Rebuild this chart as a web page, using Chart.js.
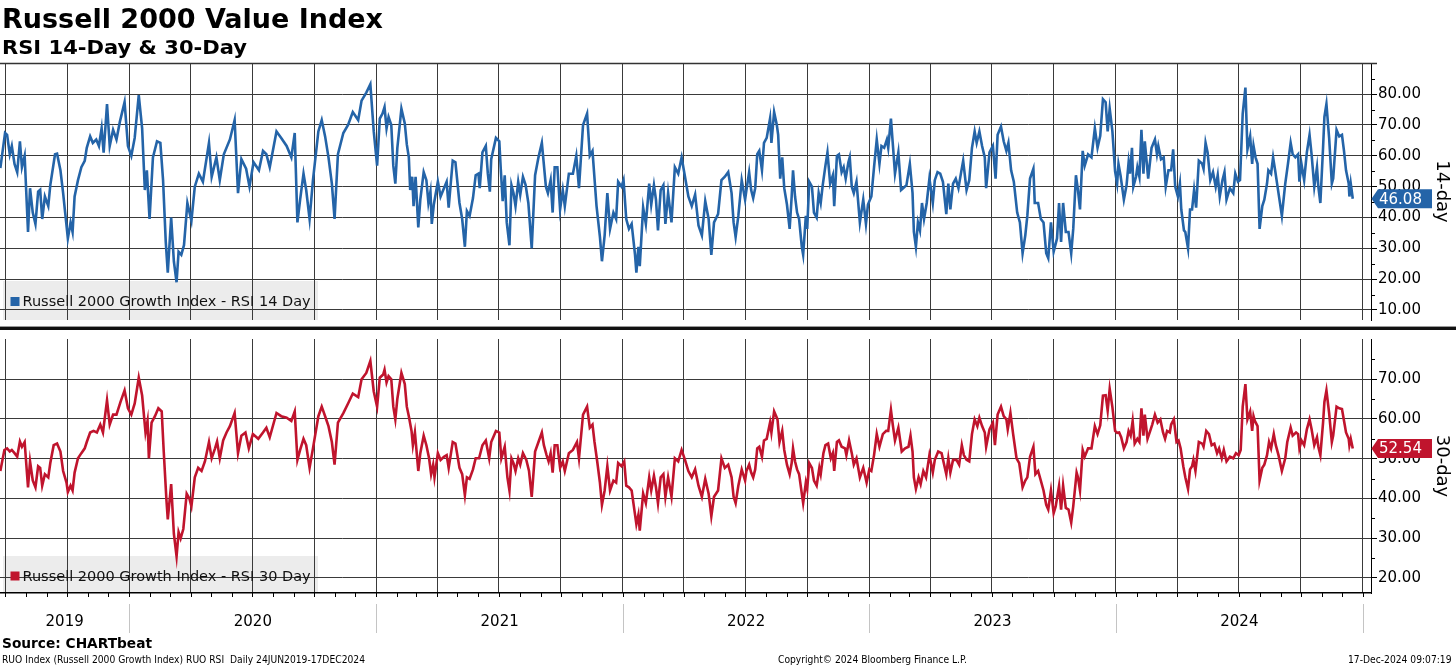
<!DOCTYPE html>
<html><head><meta charset="utf-8"><title>Russell 2000 Value Index - RSI</title>
<script src="https://cdn.jsdelivr.net/npm/chart.js@4.4.1/dist/chart.umd.min.js"></script>
<style>
html,body{margin:0;padding:0;background:#fff;}
body{width:1456px;height:666px;position:relative;overflow:hidden;}
.tx{position:absolute;white-space:nowrap;color:#000;font-family:'DejaVu Sans',sans-serif;transform-origin:0 50%;}
canvas{position:absolute;left:0;}
#sep1{position:absolute;left:0;top:325.5px;width:1456px;height:1px;background:#9a9a9a;}
#sep2{position:absolute;left:0;top:326.5px;width:1456px;height:3px;background:#111;}
</style></head>
<body>
<canvas id="c1" width="1456" height="330" style="top:0"></canvas>
<canvas id="c2" width="1456" height="337" style="top:329px"></canvas>
<div id="sep1"></div><div id="sep2"></div>
<div class="tx" id="title" style="top:4px;font-size:27px;line-height:30px;font-weight:bold">Russell 2000 Value Index</div>
<div class="tx" id="subtitle" style="top:34.5px;font-size:20px;line-height:24px;font-weight:bold">RSI 14-Day &amp; 30-Day</div>
<div class="tx" id="source" style="top:635px;font-size:14px;line-height:16px;font-weight:bold">Source: CHARTbeat</div>
<div class="tx" id="foot1" style="top:654px;font-size:10px;line-height:12px;font-family:'DejaVu Sans Condensed','DejaVu Sans',sans-serif">RUO Index (Russell 2000 Growth Index) RUO RSI&nbsp; Daily 24JUN2019-17DEC2024</div>
<div class="tx" id="foot2" style="top:654px;font-size:10px;line-height:12px;font-family:'DejaVu Sans Condensed','DejaVu Sans',sans-serif">Copyright© 2024 Bloomberg Finance L.P.</div>
<div class="tx" id="foot3" style="top:654px;font-size:10px;line-height:12px;font-family:'DejaVu Sans Condensed','DejaVu Sans',sans-serif">17-Dec-2024 09:07:19</div>
<script>
// ---------------- DATA ----------------
const dates14 = ['2019-06-24','2019-07-01','2019-07-04','2019-07-08','2019-07-11','2019-07-15','2019-07-19','2019-07-23','2019-07-26','2019-07-30','2019-08-04','2019-08-07','2019-08-11','2019-08-15','2019-08-19','2019-08-22','2019-08-25','2019-08-29','2019-09-03','2019-09-06','2019-09-13','2019-09-16','2019-09-21','2019-09-25','2019-09-28','2019-10-02','2019-10-06','2019-10-09','2019-10-12','2019-10-17','2019-10-22','2019-10-27','2019-10-30','2019-11-04','2019-11-08','2019-11-13','2019-11-17','2019-11-21','2019-11-24','2019-11-29','2019-12-03','2019-12-08','2019-12-13','2019-12-18','2019-12-25','2019-12-30',
'2020-01-04','2020-01-09','2020-01-15','2020-01-20','2020-01-24','2020-01-27','2020-01-31','2020-02-05','2020-02-11','2020-02-16','2020-02-20','2020-02-24','2020-02-27','2020-03-03','2020-03-07','2020-03-11','2020-03-14','2020-03-18','2020-03-22','2020-03-27','2020-04-02','2020-04-07','2020-04-13','2020-04-19','2020-04-28','2020-05-02','2020-05-09','2020-05-14','2020-05-20','2020-05-29','2020-06-05','2020-06-10','2020-06-15','2020-06-22','2020-06-27','2020-07-03','2020-07-11','2020-07-17','2020-07-22','2020-07-27','2020-08-06','2020-08-13','2020-08-21','2020-08-28','2020-09-02','2020-09-06','2020-09-10','2020-09-15','2020-09-19','2020-09-24','2020-09-29','2020-10-07','2020-10-12','2020-10-17','2020-10-22','2020-10-27','2020-10-31','2020-11-05','2020-11-13','2020-11-20','2020-11-27','2020-12-05','2020-12-10','2020-12-17','2020-12-23','2020-12-28',
'2021-01-02','2021-01-06','2021-01-10','2021-01-13','2021-01-16','2021-01-19','2021-01-23','2021-01-26','2021-01-29','2021-02-01','2021-02-07','2021-02-12','2021-02-15','2021-02-18','2021-02-20','2021-02-23','2021-02-25','2021-02-28','2021-03-04','2021-03-07','2021-03-12','2021-03-16','2021-03-19','2021-03-22','2021-03-24','2021-03-27','2021-04-02','2021-04-06','2021-04-11','2021-04-15','2021-04-18','2021-04-24','2021-04-28','2021-05-04','2021-05-08','2021-05-12','2021-05-15','2021-05-19','2021-05-24','2021-05-28','2021-06-01','2021-06-03','2021-06-07','2021-06-12','2021-06-15','2021-06-18','2021-06-20','2021-06-27','2021-07-02','2021-07-04','2021-07-07','2021-07-10','2021-07-13','2021-07-17','2021-07-20','2021-07-23','2021-07-26','2021-07-30','2021-08-02','2021-08-06','2021-08-10','2021-08-14','2021-08-19','2021-08-24','2021-08-29','2021-09-03','2021-09-05','2021-09-09','2021-09-12','2021-09-16','2021-09-19','2021-09-22','2021-09-26','2021-09-30','2021-10-04','2021-10-07','2021-10-13','2021-10-19','2021-10-24','2021-10-28','2021-11-03','2021-11-09','2021-11-13','2021-11-17','2021-11-23','2021-11-28','2021-12-01','2021-12-05','2021-12-09','2021-12-13','2021-12-18','2021-12-22','2021-12-25','2021-12-30',
'2022-01-02','2022-01-06','2022-01-10','2022-01-14','2022-01-19','2022-01-21','2022-01-24','2022-01-26','2022-01-31','2022-02-04','2022-02-09','2022-02-12','2022-02-16','2022-02-19','2022-02-22','2022-02-26','2022-03-02','2022-03-05','2022-03-09','2022-03-14','2022-03-19','2022-03-24','2022-03-29','2022-04-03','2022-04-08','2022-04-13','2022-04-18','2022-04-23','2022-04-28','2022-05-03','2022-05-08','2022-05-12','2022-05-16','2022-05-22','2022-05-27','2022-06-01','2022-06-06','2022-06-11','2022-06-14','2022-06-17','2022-06-21','2022-06-26','2022-07-01','2022-07-03','2022-07-07','2022-07-10','2022-07-13','2022-07-16','2022-07-19','2022-07-22','2022-07-26','2022-07-29','2022-08-02','2022-08-07','2022-08-09','2022-08-13','2022-08-17','2022-08-19','2022-08-22','2022-08-25','2022-08-28','2022-09-01','2022-09-05','2022-09-08','2022-09-10','2022-09-13','2022-09-16','2022-09-19','2022-09-23','2022-09-25','2022-09-29','2022-10-01','2022-10-04','2022-10-08','2022-10-11','2022-10-15','2022-10-18','2022-10-21','2022-10-24','2022-10-28','2022-10-31','2022-11-04','2022-11-08','2022-11-10','2022-11-14','2022-11-17','2022-11-21','2022-11-24','2022-11-27','2022-12-01','2022-12-03','2022-12-06','2022-12-09','2022-12-13','2022-12-18','2022-12-23','2022-12-27','2022-12-30',
'2023-01-04','2023-01-08','2023-01-12','2023-01-16','2023-01-19','2023-01-23','2023-01-27','2023-01-29','2023-02-02','2023-02-05','2023-02-08','2023-02-13','2023-02-17','2023-02-20','2023-02-25','2023-03-02','2023-03-06','2023-03-08','2023-03-11','2023-03-14','2023-03-17','2023-03-20','2023-03-23','2023-03-27','2023-03-31','2023-04-05','2023-04-08','2023-04-12','2023-04-16','2023-04-20','2023-04-25','2023-04-28','2023-05-01','2023-05-05','2023-05-09','2023-05-13','2023-05-17','2023-05-20','2023-05-25','2023-05-29','2023-06-02','2023-06-06','2023-06-09','2023-06-13','2023-06-17','2023-06-21','2023-06-23','2023-06-28','2023-07-03','2023-07-07','2023-07-10','2023-07-15','2023-07-19','2023-07-23','2023-07-26','2023-07-30','2023-08-03','2023-08-08','2023-08-12','2023-08-16','2023-08-20','2023-08-23','2023-08-27','2023-09-01','2023-09-03','2023-09-08','2023-09-12','2023-09-16','2023-09-20','2023-09-23','2023-09-27','2023-10-01','2023-10-06','2023-10-09','2023-10-12','2023-10-15','2023-10-19','2023-10-23','2023-10-27','2023-10-30','2023-11-03','2023-11-06','2023-11-09','2023-11-13','2023-11-16','2023-11-21','2023-11-26','2023-12-01','2023-12-05','2023-12-09','2023-12-13','2023-12-17','2023-12-20','2023-12-23','2023-12-27','2023-12-31',
'2024-01-03','2024-01-05','2024-01-08','2024-01-13','2024-01-17','2024-01-20','2024-01-22','2024-01-25','2024-01-27','2024-01-31','2024-02-02','2024-02-05','2024-02-08','2024-02-11','2024-02-13','2024-02-18','2024-02-23','2024-02-28','2024-03-02','2024-03-04','2024-03-08','2024-03-12','2024-03-15','2024-03-19','2024-03-23','2024-03-26','2024-03-29','2024-04-02','2024-04-05','2024-04-07','2024-04-11','2024-04-13','2024-04-17','2024-04-20','2024-04-23','2024-04-26','2024-04-29','2024-05-03','2024-05-08','2024-05-10','2024-05-13','2024-05-16','2024-05-20','2024-05-24','2024-05-28','2024-05-31','2024-06-03','2024-06-07','2024-06-10','2024-06-13','2024-06-18','2024-06-23','2024-06-26','2024-06-30','2024-07-03','2024-07-07','2024-07-11','2024-07-14','2024-07-18','2024-07-21','2024-07-23','2024-07-26','2024-07-29','2024-08-01','2024-08-05','2024-08-08','2024-08-12','2024-08-14','2024-08-18','2024-08-21','2024-08-24','2024-08-29','2024-09-03','2024-09-08','2024-09-12','2024-09-16','2024-09-19','2024-09-23','2024-09-27','2024-09-29','2024-10-02','2024-10-06','2024-10-10','2024-10-14','2024-10-17','2024-10-21','2024-10-25','2024-10-27','2024-10-30','2024-11-03','2024-11-05','2024-11-08','2024-11-12','2024-11-16','2024-11-18','2024-11-23','2024-11-27','2024-12-01','2024-12-04','2024-12-07','2024-12-11','2024-12-12','2024-12-14','2024-12-17'];

const rsi14 = [56,67.4,66.8,60.5,63.2,57.4,54.7,64.7,56.3,60,35.3,49.5,41.6,37.9,48.4,49,39.5,46.8,43.7,50.5,60.5,60.7,55.3,47.9,41.6,33.2,38.4,35.3,46.8,52.1,56.3,58.4,62.6,66.3,64.2,65.3,63.2,68.9,61,76.8,63.2,68.4,65.3,71,77.4,63.2,
60,65.8,79.7,68.9,48.9,55.3,39.5,59.5,64.7,64.2,52.1,32.1,22.1,40,25.8,19,28.9,27.9,31,44.7,38.9,50,54.2,51.6,64.2,53.2,59.5,52.1,60.5,65.3,71.6,47.9,58.9,55.8,50,57.9,55.3,61.6,60.5,56.3,67.9,65.8,63.2,59.5,67.4,38.4,45.8,54.2,48.9,39.5,52.1,67.9,71.6,66.3,59.5,51,39.5,60.5,67.4,70,74.2,71.6,77.9,80.5,83.2,68,
56.8,72.1,73.7,75.8,68.9,72.6,70,56.8,51,62.6,75.3,70.5,63.7,59.5,48.9,53.2,43.7,53.2,36.8,45.8,54.7,52.1,44.7,48.4,37.9,44.2,51.6,46.8,49.5,51.6,43.2,58.4,57.9,44.7,39.5,30.5,42.1,40.5,46.3,53.7,54.2,49.5,61.1,63.2,54.2,48.4,58.9,65.8,64.7,56.3,45.3,53.7,38.4,31,50.5,47.9,43.7,51.6,47.4,53.2,50.5,44.7,30,53.7,59.5,64.2,59.5,50,47.9,52.1,41.6,56.3,56.3,42.6,48.9,43.7,54.2,54.2,60,49.5,70,73.7,60,61.6,43.7,33.7,25.8,34.2,47.9,36.3,41.6,39.5,51.6,50,
52.1,39.5,36.3,37.9,27.9,22.1,30.5,24.2,43.2,37.9,51,44.2,50.5,45.8,35.8,48.9,50.5,37.9,47.9,38.4,56.3,54.2,59.5,53.2,46.8,43.7,47.4,37.4,34.2,45.3,39.5,27.9,38.4,41.1,52.1,53.2,54.7,47.9,38.4,33.7,40.5,52.1,45.8,48.9,54.7,48.9,46.3,49.5,60.5,61.6,55.3,64.2,65.8,72.1,64.2,74.2,70,66.8,52.6,59.5,49.5,44.2,36.3,46.8,55.3,46.8,41.6,39.5,30.5,27.9,40.5,36.3,51.6,50,41.6,40,47.9,44.7,50.5,56.8,61.1,51,53.7,43.7,60,60.5,54.7,56.3,52.6,57.9,59.5,50,47.9,51.6,38.4,45.8,37.9,44.2,
46.8,56.3,65.3,57.4,63.2,62.6,65.3,62.6,72.1,63.2,54.2,61.1,48.9,49.5,50.5,57.4,47.9,35.3,30.5,38.4,35.8,44.7,39.5,44.7,52.6,44.7,52.1,54.7,54.2,51.6,41.1,51,42.6,51,52.6,49.5,54.7,58.4,48.9,52.1,62.6,67.9,64.2,67.9,63.2,59.5,49.5,61.1,63.2,52.6,66.8,69.5,64.7,61.6,64.2,55.3,51.6,41.6,38.4,28.4,34.2,40.5,52.6,55.8,44.7,44.7,39.5,38.4,28.4,26.8,38.4,28.9,33.2,44.7,32.1,44.7,35.3,35.3,28.4,36.3,53.7,48.9,42.6,61.6,56.8,60.5,59.5,68.9,62.6,66.5,78.4,77.4,67.9,75.3,67.9,55,
51,57.4,53.7,45.8,50.5,57.9,54.2,62.6,50,53.2,56.3,53.2,68.4,54.2,64.7,52.6,62.6,65.3,60.5,63.2,58.9,59.5,50,55.3,55.3,62.1,50,46.8,51,42.6,35.8,35.3,30,42.6,42.6,48.9,43.2,58.4,57.4,55.8,64.2,61.1,52.1,54.7,50,53.7,46.8,52.1,54.7,45.8,49.5,47.9,54.2,51.6,52.1,73.7,82.1,62.1,66.3,57.4,63.2,59.5,57.4,36.3,43.7,45.8,51,55.3,54.2,59.5,55.3,47.9,40.5,51,57.4,64.2,60.5,59.5,60.5,51.6,57.4,52.1,61.1,66.8,60.5,50,56.3,50,44.7,62.6,72.6,76.8,65.8,51,52.6,68.4,66.3,66.8,61.6,55.3,51,46.8,51,46.08];

const dates30 = ['2019-06-24','2019-06-30','2019-07-04','2019-07-08','2019-07-11','2019-07-15','2019-07-19','2019-07-23','2019-07-26','2019-07-30','2019-08-04','2019-08-07','2019-08-11','2019-08-15','2019-08-19','2019-08-22','2019-08-25','2019-08-29','2019-09-03','2019-09-06','2019-09-11','2019-09-16','2019-09-21','2019-09-25','2019-09-30','2019-10-02','2019-10-06','2019-10-09','2019-10-12','2019-10-17','2019-10-22','2019-10-27','2019-10-30','2019-11-04','2019-11-09','2019-11-14','2019-11-19','2019-11-23','2019-11-29','2019-12-03','2019-12-08','2019-12-13','2019-12-19','2019-12-25','2019-12-30',
'2020-01-04','2020-01-09','2020-01-15','2020-01-20','2020-01-25','2020-01-28','2020-01-30','2020-02-03','2020-02-08','2020-02-13','2020-02-18','2020-02-21','2020-02-25','2020-02-27','2020-03-03','2020-03-07','2020-03-11','2020-03-14','2020-03-17','2020-03-21','2020-03-26','2020-03-30','2020-04-02','2020-04-07','2020-04-12','2020-04-17','2020-04-22','2020-04-28','2020-05-02','2020-05-07','2020-05-10','2020-05-14','2020-05-19','2020-05-24','2020-05-29','2020-06-05','2020-06-10','2020-06-15','2020-06-21','2020-06-26','2020-07-02','2020-07-10','2020-07-17','2020-07-22','2020-07-27','2020-08-06','2020-08-13','2020-08-21','2020-08-28','2020-09-02','2020-09-06','2020-09-10','2020-09-15','2020-09-19','2020-09-24','2020-09-29','2020-10-07','2020-10-12','2020-10-17','2020-10-22','2020-10-27','2020-10-31','2020-11-05','2020-11-13','2020-11-20','2020-11-27','2020-12-05','2020-12-10','2020-12-17','2020-12-23','2020-12-28',
'2021-01-02','2021-01-06','2021-01-11','2021-01-13','2021-01-16','2021-01-19','2021-01-23','2021-01-26','2021-01-29','2021-02-01','2021-02-07','2021-02-12','2021-02-15','2021-02-18','2021-02-22','2021-02-24','2021-02-27','2021-03-04','2021-03-07','2021-03-12','2021-03-16','2021-03-20','2021-03-23','2021-03-26','2021-03-28','2021-04-02','2021-04-06','2021-04-11','2021-04-15','2021-04-18','2021-04-24','2021-04-28','2021-05-04','2021-05-08','2021-05-12','2021-05-15','2021-05-19','2021-05-24','2021-05-28','2021-06-02','2021-06-07','2021-06-12','2021-06-17','2021-06-20','2021-06-27','2021-07-02','2021-07-05','2021-07-10','2021-07-14','2021-07-17','2021-07-20','2021-07-23','2021-07-26','2021-07-30','2021-08-02','2021-08-06','2021-08-11','2021-08-15','2021-08-19','2021-08-24','2021-08-29','2021-09-03','2021-09-06','2021-09-10','2021-09-13','2021-09-16','2021-09-19','2021-09-22','2021-09-26','2021-09-30','2021-10-04','2021-10-07','2021-10-13','2021-10-19','2021-10-25','2021-10-28','2021-11-03','2021-11-09','2021-11-13','2021-11-17','2021-11-20','2021-11-24','2021-11-28','2021-12-01','2021-12-05','2021-12-09','2021-12-13','2021-12-18','2021-12-22','2021-12-25','2021-12-30',
'2022-01-03','2022-01-06','2022-01-10','2022-01-14','2022-01-19','2022-01-21','2022-01-24','2022-01-26','2022-01-31','2022-02-04','2022-02-09','2022-02-12','2022-02-16','2022-02-19','2022-02-22','2022-02-26','2022-03-02','2022-03-05','2022-03-09','2022-03-14','2022-03-19','2022-03-24','2022-03-29','2022-04-03','2022-04-08','2022-04-13','2022-04-18','2022-04-23','2022-04-28','2022-05-03','2022-05-08','2022-05-12','2022-05-16','2022-05-22','2022-05-27','2022-06-01','2022-06-06','2022-06-11','2022-06-14','2022-06-17','2022-06-21','2022-06-26','2022-07-01','2022-07-03','2022-07-07','2022-07-10','2022-07-13','2022-07-16','2022-07-19','2022-07-22','2022-07-26','2022-07-29','2022-08-02','2022-08-07','2022-08-09','2022-08-13','2022-08-18','2022-08-21','2022-08-25','2022-08-28','2022-09-01','2022-09-05','2022-09-08','2022-09-10','2022-09-13','2022-09-16','2022-09-19','2022-09-23','2022-09-25','2022-09-29','2022-10-01','2022-10-04','2022-10-08','2022-10-11','2022-10-15','2022-10-19','2022-10-21','2022-10-25','2022-10-28','2022-11-01','2022-11-05','2022-11-08','2022-11-10','2022-11-14','2022-11-17','2022-11-21','2022-11-26','2022-11-28','2022-12-02','2022-12-06','2022-12-09','2022-12-13','2022-12-18','2022-12-23','2022-12-28',
'2023-01-01','2023-01-04','2023-01-08','2023-01-12','2023-01-16','2023-01-21','2023-01-26','2023-01-29','2023-02-02','2023-02-05','2023-02-08','2023-02-13','2023-02-18','2023-02-23','2023-02-28','2023-03-03','2023-03-06','2023-03-08','2023-03-11','2023-03-15','2023-03-18','2023-03-22','2023-03-26','2023-03-31','2023-04-05','2023-04-08','2023-04-13','2023-04-18','2023-04-25','2023-04-28','2023-05-01','2023-05-05','2023-05-10','2023-05-14','2023-05-18','2023-05-21','2023-05-25','2023-05-29','2023-06-02','2023-06-06','2023-06-10','2023-06-13','2023-06-17','2023-06-21','2023-06-23','2023-06-28','2023-07-03','2023-07-06','2023-07-10','2023-07-15','2023-07-19','2023-07-23','2023-07-25','2023-07-29','2023-08-02','2023-08-07','2023-08-11','2023-08-16','2023-08-20','2023-08-23','2023-08-27','2023-09-01','2023-09-04','2023-09-08','2023-09-12','2023-09-16','2023-09-20','2023-09-23','2023-09-27','2023-10-01','2023-10-04','2023-10-09','2023-10-12','2023-10-15','2023-10-19','2023-10-23','2023-10-27','2023-10-30','2023-11-04','2023-11-06','2023-11-09','2023-11-13','2023-11-16','2023-11-21','2023-11-26','2023-12-01','2023-12-05','2023-12-09','2023-12-13','2023-12-17','2023-12-20','2023-12-23','2023-12-27','2023-12-31',
'2024-01-03','2024-01-06','2024-01-09','2024-01-13','2024-01-17','2024-01-20','2024-01-23','2024-01-26','2024-01-29','2024-02-02','2024-02-05','2024-02-08','2024-02-11','2024-02-13','2024-02-17','2024-02-21','2024-02-24','2024-02-28','2024-03-03','2024-03-07','2024-03-11','2024-03-14','2024-03-17','2024-03-21','2024-03-23','2024-03-27','2024-03-31','2024-04-03','2024-04-06','2024-04-10','2024-04-13','2024-04-17','2024-04-20','2024-04-23','2024-04-25','2024-04-28','2024-05-03','2024-05-08','2024-05-10','2024-05-14','2024-05-18','2024-05-22','2024-05-26','2024-05-30','2024-06-02','2024-06-06','2024-06-09','2024-06-13','2024-06-18','2024-06-23','2024-06-27','2024-07-01','2024-07-04','2024-07-07','2024-07-11','2024-07-14','2024-07-18','2024-07-21','2024-07-23','2024-07-25','2024-07-29','2024-08-01','2024-08-05','2024-08-08','2024-08-12','2024-08-15','2024-08-18','2024-08-22','2024-08-25','2024-08-29','2024-09-03','2024-09-08','2024-09-11','2024-09-16','2024-09-19','2024-09-24','2024-09-27','2024-09-29','2024-10-02','2024-10-06','2024-10-10','2024-10-14','2024-10-17','2024-10-21','2024-10-25','2024-10-27','2024-10-30','2024-11-03','2024-11-05','2024-11-08','2024-11-12','2024-11-16','2024-11-18','2024-11-23','2024-11-27','2024-12-01','2024-12-05','2024-12-07','2024-12-11','2024-12-12','2024-12-14','2024-12-17'];

const rsi30 = [46.9,52.2,52.6,51.8,52.2,51.4,50.5,54.3,53,54.2,42.8,49.3,44.5,42.8,48.1,47.7,43.2,46.1,45.3,48.9,53.4,53.8,51.8,46.9,44,41.6,43.2,42,46.5,50.1,51.4,52.6,54.2,56.6,57,56.6,58.6,56.6,64.7,58.6,61.1,61.1,64.3,67.2,62.7,
61.1,63.9,70.4,65.9,56.6,59.5,50.1,59.1,60.7,62.7,61.9,51.8,39.6,34.7,43.6,31.1,25.4,31.5,29.9,32.3,41.2,40,38,45.3,47.7,46.9,49.3,54.2,50.1,52.6,54.3,50.1,54.6,56.6,58.2,61.5,51.4,55.8,56.6,52.6,56.2,55,56.6,57.8,55.4,61.5,60.7,60.3,59.5,61.9,49.7,52.2,55,53.4,47.7,52.6,60.7,63.1,60.7,58.2,54.2,48.5,59.1,61.5,63.9,66.4,65.5,70,71.6,74.6,67,
63.1,70.4,71.2,72.4,69.2,70.8,70,63.1,59.9,65.1,71.6,68.8,63.1,60.7,57,53.4,56.6,46.9,51.4,55.8,53.4,50.1,46.1,48.5,45.3,51.4,49.7,50.5,50.9,47.7,54.2,53.8,47.7,46.1,40.8,45.3,44.9,47.3,50.1,50.1,53.4,54.6,50.1,54.2,57,56.6,50.1,53,45.3,42,50.1,48.9,46.9,50.1,48.5,51.4,49.7,46.9,40.4,51.8,54.2,56.6,53.4,50.9,49.3,51.4,46.5,53.4,53.4,47.7,49.3,46.9,51.4,52.2,54.2,50.1,61.1,63.1,57.8,58.6,54.2,49.3,44,38.4,42,48.1,42,44.5,44,48.9,48.1,
49.3,43.2,42.8,42,35.9,33.5,35.9,31.9,41.2,38.8,45.3,42,45.7,42.8,38.8,45.3,46.1,40.4,45.3,40.4,50.1,49.3,52.2,49.7,46.9,45.3,47.3,43.2,40.4,44.9,41.2,35.5,40.4,42,50.1,47.7,48.5,45.3,40.4,38.8,43.2,47.3,44.5,46.9,48.5,46.5,45.3,47.3,52.6,53,50.5,54.6,55,59.1,56.6,61.9,59.9,54.2,57,52.2,48.5,46.1,48.9,52.6,49.3,47.3,46.1,41.2,38.8,44,42.4,48.9,47.7,44.5,43.2,47.7,46.1,51.4,53.4,53.8,50.1,51.4,46.9,54.2,54.6,53,52.6,50.9,54.6,51.4,48.5,50.1,45.3,47.7,44,
47.3,46.9,50.9,56.2,53,56.2,57,57,62.3,58.2,54.6,57.8,51.8,52.6,53,55.8,51.8,45.3,42.4,45.3,43.6,46.9,45.3,50.9,46.5,49.7,51.8,51.4,46.1,50.1,46.5,49.7,49.7,48.5,53.4,50.9,49.7,49.3,56.2,59.9,58.2,60.3,58.2,56.6,53,57.4,59.1,53.4,61.1,63.1,60.7,59.9,57.4,61.5,56.2,50.1,48.9,42.8,44.5,45.3,50.5,53,46.1,46.9,44.5,42,38.4,37.2,42,36.3,38,43.2,37.2,43.2,37.6,37.2,33.9,38,46.5,45.3,42,52.2,50.5,52.6,52.6,58.2,56.2,58.4,65.9,66,62.1,67.6,63,57,
56.5,56.6,55.4,52.6,54.2,57,55.8,59.5,53.8,55,54.2,62.7,55.8,61.1,55,57,58.6,61.1,59.1,59.9,56.6,55,57,56.6,58.6,59.9,54.2,54.6,52.6,48.1,45.3,42.4,47.3,48.1,49.7,46.9,54.2,53.8,53,57,56.2,53.4,53.8,51.4,52.6,50.1,52.2,49.3,50.5,50.1,51.4,50.9,52.2,63.1,68.8,59.9,61.9,57,60.7,59.5,58.2,44.5,47.7,48.5,50.9,54.2,52.6,56.2,53.4,50.9,46.9,50.1,54.2,57.8,55.8,56.6,56.2,52.6,54.6,53.4,57.4,59.9,57.4,53.4,55.4,53,50.9,59.1,64.3,67.2,61.5,54.2,55.8,63.1,62.7,62.5,58.6,56.6,55,53.4,55,52.54];

const ticks14 = [10,20,30,40,50,60,70,80];
const ticks30 = [20,30,40,50,60,70];
const yearLabels = ['2019','2020','2021','2022','2023','2024'];
const legend14 = 'Russell 2000 Growth Index - RSI 14 Day';
const legend30 = 'Russell 2000 Growth Index - RSI 30 Day';
const axisTitle14 = '14-day';
const axisTitle30 = '30-day';

// ---------------- STYLE / LAYOUT ----------------
const FONT = "'DejaVu Sans', 'Noto Sans', sans-serif";
const BLUE = '#2464a8';
const RED = '#c0142d';
const GRID = '#3a3a3a';
const toTs = s => { const p = s.split('-').map(Number); return Date.UTC(p[0], p[1]-1, p[2]); };
const xMin = Date.UTC(2019,5,23,12);
const xMax = Date.UTC(2025,0,13);

function quarterTicks(scale){
  const t = [];
  for (let y = 2019; y <= 2025; y++) for (let m = 0; m < 12; m += 3){
    const v = Date.UTC(y, m, 1);
    if (v > xMin && v < xMax) t.push({value: v});
  }
  scale.ticks = t;
}
function yearTicks(scale){
  scale.ticks = yearLabels.map(l => {
    const y = +l;
    const a = Math.max(Date.UTC(y,0,1), xMin), b = Math.min(Date.UTC(y+1,0,1), xMax);
    return {value: (a+b)/2};
  });
}

function hline(ctx,x1,y1,x2,y2){ ctx.beginPath(); ctx.moveTo(x1,y1); ctx.lineTo(x2,y2); ctx.stroke(); }

function panelPlugin(p){
  return {
    id: 'panel',
    beforeDraw(chart){
      const {ctx, chartArea:a} = chart;
      ctx.save();
      ctx.fillStyle = '#ececec';
      ctx.fillRect(3, a.bottom - p.boxH, 315, p.boxH);
      ctx.restore();
    },
    beforeDatasetsDraw(chart){
      const {ctx, chartArea:a} = chart;
      ctx.save();
      ctx.fillStyle = p.color;
      ctx.fillRect(10.5, a.bottom - p.textOff - 9, 9, 9);
      ctx.fillStyle = '#111';
      ctx.font = '14.5px ' + FONT;
      ctx.textBaseline = 'alphabetic';
      ctx.textAlign = 'left';
      ctx.fillText(p.label, 22.5, a.bottom - p.textOff);
      ctx.restore();
    },
    afterDraw(chart){
      const {ctx, chartArea:a} = chart;
      const y = chart.scales.y, x = chart.scales.x;
      ctx.save();
      if (p.topBorder){
        ctx.strokeStyle = '#333'; ctx.lineWidth = 1.5;
        hline(ctx, 0, a.top + 0.5, a.right + 6, a.top + 0.5);
      }
      ctx.strokeStyle = '#000'; ctx.lineWidth = 1;
      for (let v = Math.ceil(y.min/5)*5; v <= y.max; v += 5){
        if (v % 10 === 0) continue;
        const py = Math.round(y.getPixelForValue(v)) + 0.5;
        hline(ctx, a.right, py, a.right + 4, py);
      }
      if (p.bottomAxis){
        for (let yr = 2019; yr <= 2025; yr++) for (let m = 0; m < 12; m++){
          const v = Date.UTC(yr, m, 1);
          if (v <= xMin || v >= xMax) continue;
          const px = Math.round(x.getPixelForValue(v)) + 0.5;
          hline(ctx, px, a.bottom, px, a.bottom + 4);
        }
        ctx.strokeStyle = '#c4c4c4';
        for (let yr = 2020; yr <= 2025; yr++){
          const px = Math.round(x.getPixelForValue(Date.UTC(yr,0,1))) + 0.5;
          hline(ctx, px, a.bottom + 11, px, a.bottom + 40);
        }
      }
      // last value tag
      const last = p.values[p.values.length - 1];
      const py = y.getPixelForValue(last);
      const r = a.right;
      ctx.fillStyle = p.color;
      ctx.beginPath();
      ctx.moveTo(r + 0.5, py);
      ctx.lineTo(r + 7, py - 9.5);
      ctx.lineTo(r + 61, py - 9.5);
      ctx.lineTo(r + 61, py + 9.5);
      ctx.lineTo(r + 7, py + 9.5);
      ctx.closePath();
      ctx.fill();
      ctx.fillStyle = '#fff';
      ctx.font = '15px ' + FONT;
      ctx.textBaseline = 'middle';
      ctx.textAlign = 'left';
      ctx.fillText(last.toFixed(2), r + 8, py + 1);
      ctx.restore();
    }
  };
}

function yAxis(ticksArr, min, max, title){
  return {
    position: 'right', min: min, max: max,
    afterBuildTicks(s){ s.ticks = ticksArr.map(v => ({value: v})); },
    ticks: {callback: v => Number(v).toFixed(2), color: '#000', font: {family: FONT, size: 15}, padding: 1},
    grid: {color: GRID, lineWidth: 1, drawTicks: true, tickLength: 6, tickColor: '#000'},
    border: {display: true, color: '#000', width: 1},
    title: {display: true, text: title, color: '#000', font: {family: FONT, size: 18}, padding: {top: 4, bottom: 0}},
    afterFit(s){ s.width = 85; }
  };
}

Chart.defaults.font.family = FONT;

new Chart(document.getElementById('c1'), {
  type: 'line',
  data: {datasets: [{data: dates14.map((d,i) => ({x: toTs(d), y: rsi14[i]})), borderColor: BLUE, borderWidth: 2.6, pointRadius: 0, tension: 0, fill: false}]},
  options: {
    responsive: false, animation: false,
    layout: {padding: {top: 63, bottom: 3, left: 0, right: 0}},
    plugins: {legend: {display: false}, tooltip: {enabled: false}},
    scales: {
      x: {type: 'linear', min: xMin, max: xMax, afterBuildTicks: quarterTicks, ticks: {display: false},
          grid: {color: GRID, lineWidth: 1, drawTicks: false}, border: {display: false}, afterFit(s){ s.height = 0; }},
      y: yAxis(ticks14, 6.75, 90.1, axisTitle14)
    }
  },
  plugins: [panelPlugin({color: BLUE, label: legend14, values: rsi14, boxH: 39, textOff: 14, topBorder: true})]
});

new Chart(document.getElementById('c2'), {
  type: 'line',
  data: {datasets: [{data: dates30.map((d,i) => ({x: toTs(d), y: rsi30[i]})), borderColor: RED, borderWidth: 2.6, pointRadius: 0, tension: 0, fill: false}]},
  options: {
    responsive: false, animation: false,
    layout: {padding: {top: 1, bottom: 0, left: 0, right: 0}},
    plugins: {legend: {display: false}, tooltip: {enabled: false}},
    scales: {
      x: {type: 'linear', min: xMin, max: xMax, weight: 0, afterBuildTicks: quarterTicks, ticks: {display: false},
          grid: {color: GRID, lineWidth: 1, drawTicks: false}, border: {display: true, color: '#000', width: 1.5}, afterFit(s){ s.height = 0; }},
      x2: {type: 'linear', position: 'bottom', min: xMin, max: xMax, weight: 1, afterBuildTicks: yearTicks,
          ticks: {callback: (v, i) => yearLabels[i], color: '#000', font: {family: FONT, size: 15}, padding: 20, maxRotation: 0, autoSkip: false},
          grid: {display: false, drawTicks: false}, border: {display: false}, afterFit(s){ s.height = 73; }},
      y: yAxis(ticks30, 16.18, 80.14, axisTitle30)
    }
  },
  plugins: [panelPlugin({color: RED, label: legend30, values: rsi30, boxH: 37, textOff: 12.5, topBorder: false, bottomAxis: true})]
});

// ---------------- TEXT FITTING ----------------
function fit(id, left, width){
  const el = document.getElementById(id);
  el.style.left = left + 'px';
  const w = el.getBoundingClientRect().width;
  el.style.transform = 'scaleX(' + (width / w) + ')';
  return width / w;
}
fit('title', 1.5, 381);
fit('subtitle', 1.5, 245);
fit('source', 2, 150);
const k = fit('foot1', 2, 363);
(function(){
  const f2 = document.getElementById('foot2');
  const w2 = f2.getBoundingClientRect().width;
  f2.style.left = (872 - w2 * k / 2) + 'px';
  f2.style.transform = 'scaleX(' + k + ')';
  const f3 = document.getElementById('foot3');
  const w3 = f3.getBoundingClientRect().width;
  f3.style.left = (1452 - w3 * k) + 'px';
  f3.style.transform = 'scaleX(' + k + ')';
})();
</script>
</body></html>
